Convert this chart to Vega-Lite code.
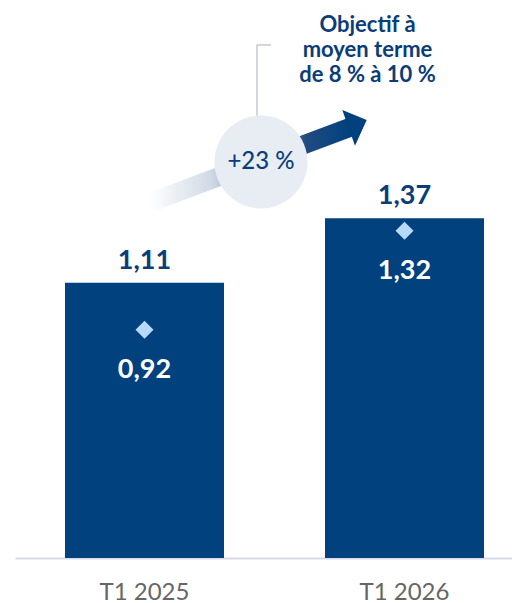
{
  "$schema": "https://vega.github.io/schema/vega-lite/v6.json",
  "width": 497,
  "height": 558,
  "autosize": {"type": "none"},
  "padding": {"left": 15, "top": 0, "right": 0, "bottom": 45},
  "background": "white",
  "config": {"view": {"stroke": null}, "font": "Lato"},
  "datasets": {
    "bars": [
      {"period": "T1 2025", "value": 1.11, "marker": 0.92, "valueLabel": "1,11", "markerLabel": "0,92"},
      {"period": "T1 2026", "value": 1.37, "marker": 1.32, "valueLabel": "1,37", "markerLabel": "1,32"}
    ],
    "circle": [{"u": 1.448, "v": 1.597, "label": "+23 %"}],
    "shaft": [{"u": 1.021, "v": 1.433, "o": 1}, {"u": 1.798, "v": 1.7395, "o": 2}],
    "head": [{"u": 1.785, "v": 1.734}],
    "connector": [
      {"u": 1.4327, "v": 1.77, "o": 1},
      {"u": 1.4327, "v": 2.0685, "o": 2},
      {"u": 1.4865, "v": 2.0685, "o": 3}
    ],
    "goal": [
      {"u": 1.8577, "v": 2.121, "text": "Objectif à"},
      {"u": 1.8577, "v": 2.02, "text": "moyen terme"},
      {"u": 1.8577, "v": 1.919, "text": "de 8 % à 10 %"}
    ]
  },
  "layer": [
    {
      "data": {"name": "bars"},
      "encoding": {
        "x": {
          "field": "period",
          "type": "nominal",
          "sort": null,
          "scale": {"paddingInner": 0.3885, "paddingOuter": 0.15, "align": 0.641},
          "axis": {
            "title": null,
            "labelAngle": 0,
            "labelFontSize": 24,
            "labelColor": "#666666",
            "labelFont": "Lato",
            "domainColor": "#d5d9ee",
            "domainWidth": 2,
            "ticks": false,
            "tickSize": 0,
            "labelPadding": 41,
            "labelBaseline": "alphabetic",
            "grid": false
          }
        }
      },
      "layer": [
        {
          "mark": {"type": "bar", "color": "#00417e"},
          "encoding": {
            "y": {"field": "value", "type": "quantitative", "scale": {"domain": [0, 2.25], "nice": false}, "axis": null}
          }
        },
        {
          "mark": {"type": "text", "color": "#0b3d78", "fontSize": 27, "fontWeight": "bold", "baseline": "alphabetic", "dy": -14},
          "encoding": {
            "y": {"field": "value", "type": "quantitative"},
            "text": {"field": "valueLabel"}
          }
        },
        {
          "mark": {"type": "point", "shape": "diamond", "filled": true, "size": 324, "color": "#b7dafa", "opacity": 1},
          "encoding": {
            "y": {"field": "marker", "type": "quantitative"}
          }
        },
        {
          "mark": {"type": "text", "color": "white", "fontSize": 27, "fontWeight": "bold", "baseline": "alphabetic", "dy": 48.5},
          "encoding": {
            "y": {"field": "marker", "type": "quantitative"},
            "text": {"field": "markerLabel"}
          }
        }
      ]
    },
    {
      "encoding": {
        "x": {"field": "u", "type": "quantitative", "scale": {"domain": [0.50192, 2.41346], "nice": false, "zero": false}, "axis": null},
        "y": {"field": "v", "type": "quantitative"}
      },
      "layer": [
        {
          "data": {"name": "connector"},
          "mark": {"type": "line", "color": "#c5cbd6", "strokeWidth": 1.5},
          "encoding": {"order": {"field": "o"}}
        },
        {
          "data": {"name": "shaft"},
          "mark": {
            "type": "line",
            "strokeWidth": 19,
            "strokeCap": "butt",
            "stroke": {
              "gradient": "linear",
              "x1": 0, "y1": 0, "x2": 1, "y2": 0,
              "stops": [
                {"offset": 0, "color": "#ffffff"},
                {"offset": 0.3, "color": "#d0dae6"},
                {"offset": 0.78, "color": "#1f4a80"},
                {"offset": 1, "color": "#00417e"}
              ]
            }
          },
          "encoding": {"order": {"field": "o"}}
        },
        {
          "data": {"name": "head"},
          "mark": {"type": "point", "shape": "M-0.315,-0.895L0.905,-0.395L0.32,0.89Z", "size": 1600, "filled": true, "color": "#00417e", "opacity": 1}
        },
        {
          "data": {"name": "circle"},
          "layer": [
            {
              "mark": {"type": "point", "shape": "circle", "size": 8659, "filled": true, "color": "#e8edf4", "opacity": 1}
            },
            {
              "mark": {"type": "text", "color": "#0b3d78", "fontSize": 24, "fontWeight": 500, "baseline": "middle"},
              "encoding": {"text": {"field": "label"}}
            }
          ]
        },
        {
          "data": {"name": "goal"},
          "mark": {"type": "text", "color": "#0b3d78", "fontSize": 22, "fontWeight": "bold", "baseline": "alphabetic"},
          "encoding": {"text": {"field": "text"}}
        }
      ]
    }
  ],
  "resolve": {"scale": {"x": "independent"}, "axis": {"x": "independent"}}
}
